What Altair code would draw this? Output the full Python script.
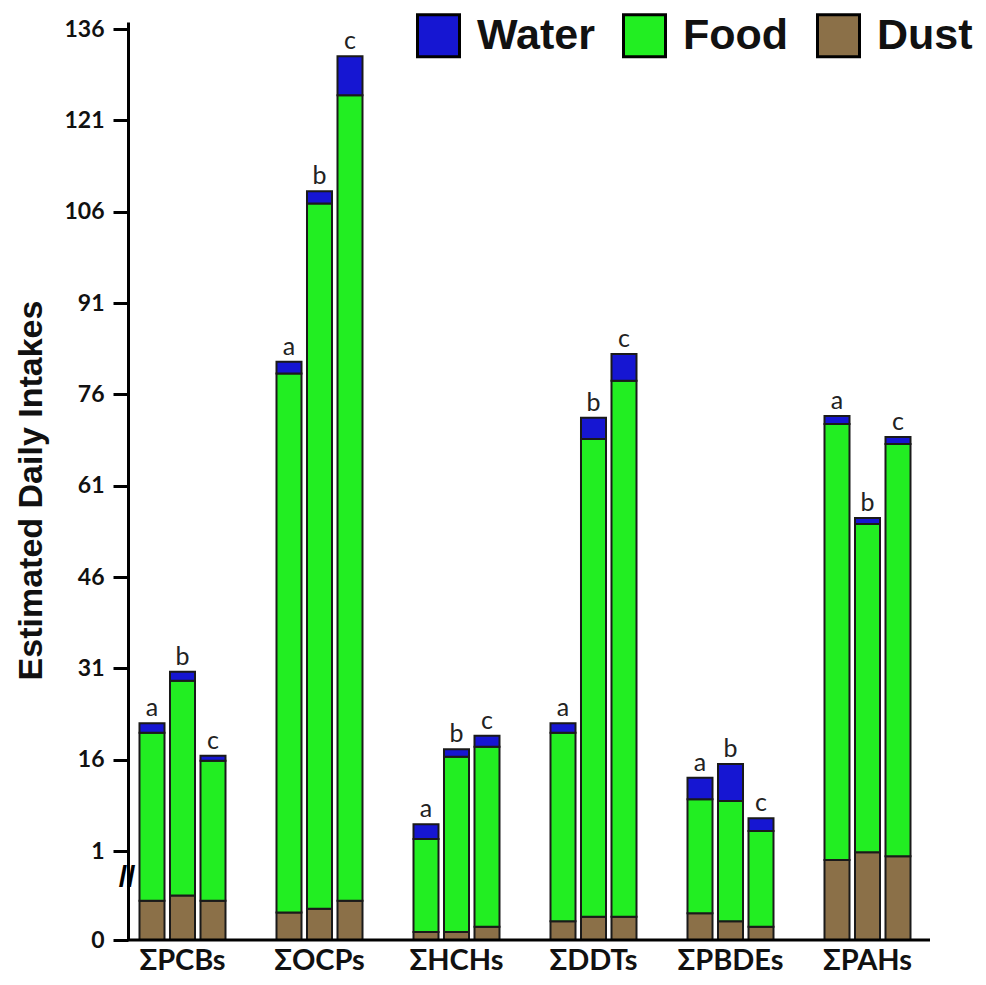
import altair as alt
import pandas as pd

groups = ["ΣPCBs", "ΣOCPs", "ΣHCHs", "ΣDDTs", "ΣPBDEs", "ΣPAHs"]
subs = ["a", "b", "c"]
sources = ["Water", "Food", "Dust"]

dust = [[0.44, 0.50, 0.44], [0.31, 0.35, 0.44], [0.09, 0.09, 0.15],
        [0.21, 0.26, 0.26], [0.30, 0.21, 0.15], [0.90, 0.985, 0.94]]
food = [[19.99, 28.46, 15.39], [79.13, 107.0, 124.7], [2.88, 16.39, 17.98],
        [20.22, 68.39, 77.96], [9.19, 9.0, 4.13], [70.21, 53.7, 66.89]]
water = [[1.54, 1.48, 0.82], [1.9, 2.02, 6.4], [2.41, 1.22, 1.8],
         [1.54, 3.5, 4.39], [3.55, 6.08, 2.09], [1.32, 0.99, 1.15]]

y_ticks = [0, 1, 16, 31, 46, 61, 76, 91, 106, 121, 136]
colors = ["#1616d2", "#22ee22", "#8b7048"]

rows = []
for gi, g in enumerate(groups):
    for si, s in enumerate(subs):
        for rank, (src, arr) in enumerate([("Dust", dust), ("Food", food), ("Water", water)]):
            rows.append({"group": g, "sub": s, "source": src, "value": arr[gi][si], "rank": rank})
df = pd.DataFrame(rows)

W, H = 802, 918
yscale = alt.Scale(domain=[0, 1, 137.15], range=[H, 829, 0], nice=False, zero=False)
xscale = alt.Scale(domain=groups, range=[-14, 808], paddingInner=0, paddingOuter=0)
xoff = alt.XOffset("sub:N", scale=alt.Scale(domain=subs, paddingInner=0.18, paddingOuter=0.836))

xenc = alt.X("group:N", sort=groups, scale=xscale,
             axis=alt.Axis(title=None, domain=False, ticks=False, labelAngle=0,
                           labelFont="Lato", labelFontWeight="bold", labelFontSize=29,
                           labelColor="#111111", labelPadding=6))

bars = alt.Chart(df).mark_bar(stroke="#1a1a1a", strokeWidth=2).encode(
    x=xenc,
    xOffset=xoff,
    y=alt.Y("value:Q", stack="zero", scale=yscale,
            axis=alt.Axis(values=y_ticks, grid=False, domainWidth=3, domainColor="black",
                          tickWidth=3, tickSize=15, tickColor="black",
                          labelFont="Lato", labelFontWeight="bold", labelFontSize=23,
                          labelColor="#111111", labelPadding=9,
                          title="Estimated Daily Intakes", titleFont="Liberation Sans",
                          titleFontSize=34, titleFontWeight="bold", titleColor="#111111",
                          titleX=-97, titleY=468, titleAngle=-90,
                          titleBaseline="middle", titleAlign="center")),
    color=alt.Color("source:N", scale=alt.Scale(domain=sources, range=colors),
                    legend=alt.Legend(title=None, orient="none", legendX=288, legendY=-9,
                                      direction="horizontal", symbolType="square",
                                      symbolSize=1764, symbolStrokeColor="black",
                                      symbolStrokeWidth=3, symbolOpacity=1,
                                      labelFont="Liberation Sans", labelFontWeight="bold",
                                      labelFontSize=43, labelColor="#111111",
                                      labelOffset=16, columnPadding=22, padding=0,
                                      labelLimit=0)),
    order=alt.Order("rank:Q"),
)

letters = alt.Chart(df).transform_aggregate(
    total="sum(value)", groupby=["group", "sub"]
).mark_text(dy=-7, baseline="alphabetic", fontSize=25, font="Lato", color="#222222").encode(
    x=alt.X("group:N", sort=groups, scale=xscale),
    xOffset=xoff,
    y=alt.Y("total:Q", scale=yscale),
    text="sub:N",
)

baseline = alt.Chart(pd.DataFrame({"v": [0]})).mark_rule(strokeWidth=3, color="black").encode(
    y=alt.datum(0), x=alt.value(0), x2=alt.value(W)
)

brk = alt.Chart(pd.DataFrame({"v": [0]})).mark_text(
    text="//", fontSize=30, fontWeight="bold", font="Liberation Sans", color="black"
).encode(x=alt.value(-1), y=alt.datum(0.7))

chart = alt.layer(bars, letters, baseline, brk).properties(
    width=W, height=H,
    autosize=alt.AutoSizeParams(type="none"),
    padding={"left": 120, "top": 14, "right": 48, "bottom": 37},
    background="white",
).configure_view(stroke=None)

chart.save("out.html", embed_options={"renderer": "svg", "actions": False})
